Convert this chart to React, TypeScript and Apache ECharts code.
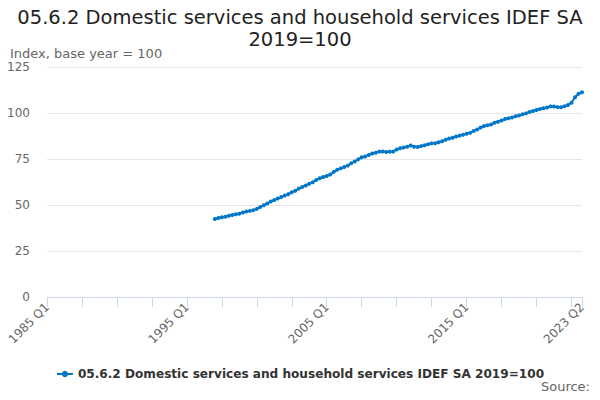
import React, { useEffect, useRef } from "react";
import * as echarts from "echarts";

const firstYear = 1985;
const lastYear = 2023;
const lastQuarter = 2;
const seriesName = "05.6.2 Domestic services and household services IDEF SA 2019=100";
const titleText = "05.6.2 Domestic services and household services IDEF SA\n2019=100";
const yAxisName = "Index, base year = 100";
const sourceText = "Source:";
const yTicks = [0, 25, 50, 75, 100, 125];
// first observed value is 1997 Q1
const dataStartLabel = "1997 Q1";
const observed = [
  42.4, 42.9, 43.3, 43.6,
  44.2, 44.6, 45.0, 45.3,
  45.9, 46.5, 46.8, 47.1,
  47.9, 48.9, 49.9, 50.8,
  51.9, 52.7, 53.5, 54.3,
  55.2, 55.9, 56.9, 57.7,
  58.9, 59.8, 60.6, 61.6,
  62.4, 63.6, 64.5, 65.2,
  65.8, 66.6, 68.0, 69.2,
  69.9, 70.7, 71.4, 72.7,
  73.6, 74.8, 75.9, 76.4,
  77.2, 78.0, 78.4, 79.0,
  79.1, 78.8, 79.0, 79.0,
  80.2, 80.9, 81.2, 81.7,
  82.3, 81.6, 81.5, 82.0,
  82.5, 83.0, 83.5, 83.6,
  84.1, 84.6, 85.5, 86.1,
  86.5, 87.2, 87.7, 88.2,
  88.7, 89.2, 90.2, 91.0,
  92.1, 92.9, 93.3, 93.8,
  94.7, 95.3, 95.9, 96.7,
  97.2, 97.6, 98.2, 98.6,
  99.3, 99.8, 100.6, 101.1,
  101.6, 102.2, 102.6, 103.0,
  103.6, 103.5, 103.2, 103.1,
  103.7, 104.4, 105.6, 108.6,
  110.5, 111.3,
];

const categories: string[] = [];
for (let y = firstYear; y <= lastYear; y++) {
  for (let q = 1; q <= 4; q++) {
    if (y === lastYear && q > lastQuarter) break;
    categories.push(`${y} Q${q}`);
  }
}
const startIdx = categories.indexOf(dataStartLabel);
const seriesData: (number | null)[] = categories.map((_, i) =>
  i >= startIdx && i - startIdx < observed.length ? observed[i - startIdx] : null
);
const lastIdx = categories.length - 1;

const FONT = "DejaVu Sans";

export default function App() {
  const ref = useRef<HTMLDivElement>(null);
  useEffect(() => {
    if (!ref.current) return;
    const chart = echarts.init(ref.current, undefined, { renderer: "svg" });
    chart.setOption({
      animation: false,
      textStyle: { fontFamily: FONT },
      title: {
        text: titleText,
        left: "center",
        top: 1,
        textStyle: { fontFamily: FONT, fontSize: 19.5, fontWeight: "normal", color: "#222", lineHeight: 22 },
      },
      grid: { left: 47, right: 18, top: 67, bottom: 103, containLabel: false },
      legend: {
        bottom: 15,
        left: "center",
        itemWidth: 16,
        itemHeight: 8,
        itemGap: 5,
        textStyle: { fontFamily: FONT, fontSize: 12.1, fontWeight: "bold", color: "#333" },
        data: [seriesName],
      },
      graphic: [
        {
          type: "text",
          x: 10,
          y: 53,
          style: { text: yAxisName, fontFamily: FONT, fontSize: 13, fill: "#666", verticalAlign: "middle", align: "left" },
        },
        {
          type: "text",
          x: 590,
          y: 386,
          style: { text: sourceText, fontFamily: FONT, fontSize: 13, fill: "#666", verticalAlign: "middle", align: "right" },
        },
      ],
      xAxis: {
        type: "category",
        data: categories,
        boundaryGap: false,
        axisLine: { lineStyle: { color: "#ccd6eb" } },
        axisTick: {
          length: 10,
          lineStyle: { color: "#ccd6eb" },
          interval: (i: number) => i % 10 === 0 || i === lastIdx,
        },
        axisLabel: {
          rotate: 45,
          fontSize: 12,
          color: "#666",
          fontFamily: FONT,
          interval: (i: number) => i % 40 === 0 || i === lastIdx,
          margin: 8,
        },
        splitLine: { show: false },
      },
      yAxis: {
        type: "value",
        min: 0,
        max: 125,
        interval: 25,
        axisLine: { show: false },
        axisTick: { show: false },
        axisLabel: {
          fontSize: 12,
          color: "#666",
          fontFamily: FONT,
          margin: 17,
          formatter: (v: number) => (yTicks.includes(v) ? String(v) : ""),
        },
        splitLine: { lineStyle: { color: "#e6e6e6" } },
      },
      series: [
        {
          name: seriesName,
          type: "line",
          data: seriesData,
          connectNulls: false,
          symbol: "circle",
          symbolSize: 4,
          showSymbol: true,
          showAllSymbol: true,
          itemStyle: { color: "#0077c8" },
          lineStyle: { color: "#0077c8", width: 2 },
        },
      ],
    });
    return () => chart.dispose();
  }, []);
  return <div ref={ref} style={{ width: 600, height: 400, margin: -8 }} />;
}
